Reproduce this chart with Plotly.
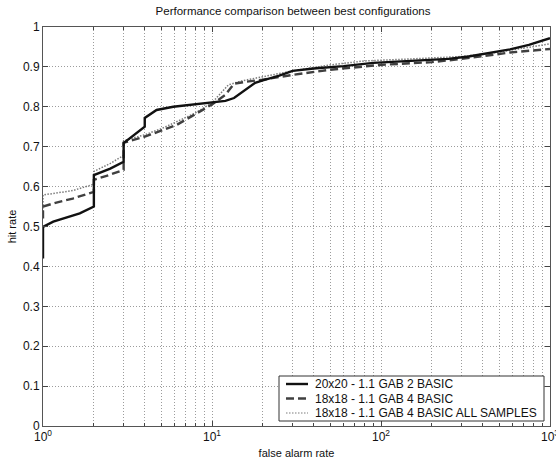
import plotly.graph_objects as go

# 20x20 - 1.1 GAB 2 BASIC
x_a = [1, 1, 1.15, 1.65, 2, 2, 2.5, 3, 3, 3.5, 4, 4, 4.3, 4.7, 5.9, 7.5, 9.7, 12, 13.5, 16, 18, 20, 25, 30, 40, 60, 90, 150, 250, 330, 450, 580, 750, 1000]
y_a = [0.42, 0.499, 0.512, 0.533, 0.55, 0.629, 0.645, 0.662, 0.709, 0.73, 0.75, 0.772, 0.782, 0.792, 0.80, 0.805, 0.81, 0.815, 0.822, 0.844, 0.86, 0.866, 0.878, 0.89, 0.896, 0.902, 0.91, 0.915, 0.92, 0.926, 0.935, 0.944, 0.955, 0.972]

# 18x18 - 1.1 GAB 4 BASIC
x_b = [1, 1, 1.2, 1.5, 2, 2, 2.5, 3, 3, 4, 5, 6.2, 8, 10, 12, 13.5, 16, 20, 30, 50, 100, 200, 300, 580, 1000]
y_b = [0.52, 0.55, 0.56, 0.57, 0.587, 0.617, 0.63, 0.642, 0.71, 0.725, 0.74, 0.755, 0.782, 0.806, 0.83, 0.858, 0.863, 0.868, 0.88, 0.893, 0.905, 0.912, 0.92, 0.936, 0.945]

# 18x18 - 1.1 GAB 4 BASIC ALL SAMPLES
x_c = [1, 1, 1.5, 2, 2, 2.5, 3, 3, 4, 5, 6, 8, 10, 12.5, 15, 20, 30, 50, 80, 150, 300, 500, 1000]
y_c = [0.53, 0.579, 0.59, 0.606, 0.638, 0.658, 0.678, 0.715, 0.73, 0.745, 0.76, 0.785, 0.81, 0.855, 0.865, 0.875, 0.89, 0.905, 0.915, 0.92, 0.926, 0.937, 0.958]

names = ["20x20 - 1.1 GAB 2 BASIC", "18x18 - 1.1 GAB 4 BASIC", "18x18 - 1.1 GAB 4 BASIC ALL SAMPLES"]

x_major = [1, 10, 100, 1000]
x_major_text = ["10<sup>0</sup>", "10<sup>1</sup>", "10<sup>2</sup>", "10<sup>3</sup>"]
x_minor = [m * d for d in [1, 10, 100] for m in range(2, 10)]

styles = [
    dict(color="#111111", width=2.4),
    dict(color="#404040", width=2.4, dash="8px,4px"),
    dict(color="#7c7c7c", width=1.5, dash="1.5px,1.5px"),
]
series = [(x_a, y_a), (x_b, y_b), (x_c, y_c)]

fig = go.Figure()
for i in [2, 1, 0]:
    fig.add_trace(go.Scatter(x=series[i][0], y=series[i][1], mode="lines",
                             name=names[i], line=styles[i], showlegend=False))

# legend (drawn as a box with samples, to match compact row spacing)
W, H, L, T = 507.0, 399.0, 43.0, 27.0
def px(xpix):
    return (xpix - L) / W
def py(ypix):
    return (T + H - ypix) / H

shapes = [dict(type="rect", xref="paper", yref="paper",
               x0=px(279), x1=px(544), y0=py(421), y1=py(376),
               fillcolor="white", line=dict(color="#333", width=1), layer="above")]
annotations = []
rows = [384, 398.5, 413]
for i, r in enumerate(rows):
    lw = dict(styles[i])
    if i == 2:
        lw["width"] = 1.2
    shapes.append(dict(type="line", xref="paper", yref="paper",
                       x0=px(286), x1=px(308), y0=py(r), y1=py(r),
                       line=lw, layer="above"))
    annotations.append(dict(xref="paper", yref="paper", x=px(313), y=py(r),
                            xanchor="left", yanchor="middle", showarrow=False,
                            text=names[i], font=dict(size=12, color="#111")))

font = "Liberation Sans, Arial, sans-serif"
grid = "#9c9c9c"
gd = "1px,2px"
fig.update_layout(
    width=556, height=459,
    margin=dict(l=43, r=6, t=27, b=33, autoexpand=False),
    paper_bgcolor="white", plot_bgcolor="white",
    font=dict(family=font, size=12, color="#111"),
    title=dict(text="Performance comparison between best configurations",
               x=0.527, xanchor="center", y=0.985, yanchor="top",
               font=dict(size=11.5, color="#111")),
    showlegend=False,
    shapes=shapes,
    annotations=annotations,
    xaxis=dict(type="log", range=[0, 3], automargin=False,
               tickmode="array", tickvals=x_major, ticktext=x_major_text,
               ticklabeloverflow="allow",
               showgrid=True, gridcolor=grid, griddash=gd, gridwidth=1,
               ticks="inside", ticklen=5, tickcolor="#444",
               showline=True, linecolor="#555", linewidth=1, mirror="ticks",
               zeroline=False,
               title=dict(text="false alarm rate", font=dict(size=11), standoff=6),
               tickfont=dict(size=12),
               minor=dict(tickmode="array", tickvals=x_minor, showgrid=True,
                          gridcolor=grid, griddash=gd, gridwidth=1,
                          ticks="inside", ticklen=3, tickcolor="#444")),
    yaxis=dict(range=[0, 1], dtick=0.1, tick0=0, automargin=False,
               showgrid=True, gridcolor=grid, griddash=gd, gridwidth=1,
               ticks="inside", ticklen=5, tickcolor="#444",
               showline=True, linecolor="#555", linewidth=1, mirror="ticks",
               zeroline=False,
               title=dict(text="hit rate", font=dict(size=11), standoff=4),
               tickfont=dict(size=12)),
)

fig.write_html("out.html")
